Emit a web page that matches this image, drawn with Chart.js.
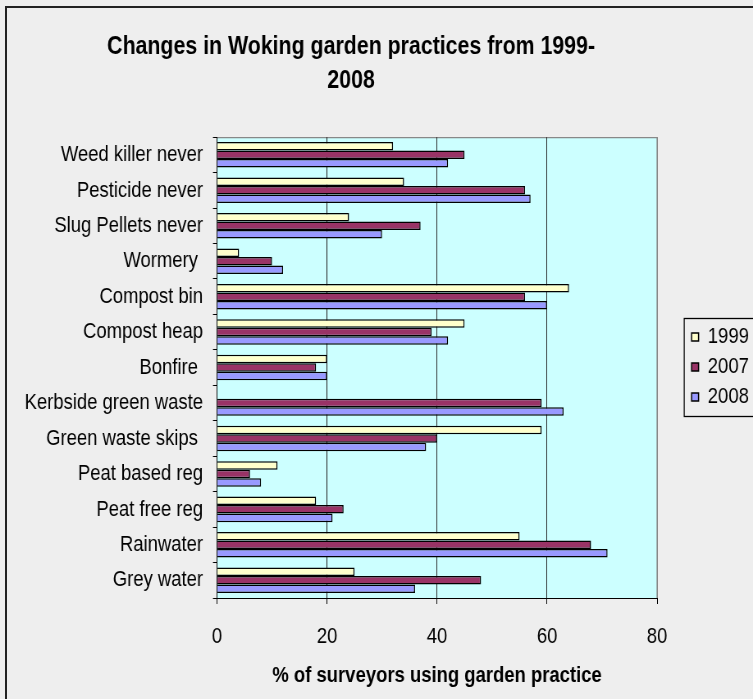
<!DOCTYPE html>
<html>
<head>
    <title>Changes in Woking garden practices</title>
    <script src="https://cdn.jsdelivr.net/npm/chart.js"></script>
    <style>
        body { margin: 0; background: #eeeeee; overflow: hidden; }
        .frame { position: absolute; left: 5px; top: 6px; width: 900px; height: 900px; border-left: 2px solid #222; border-top: 2px solid #222; }
        /* the original picture is squeezed sideways, so the canvas is too */
        #chart { position: absolute; left: 0; top: 0; transform: scaleX(0.8203); transform-origin: 0 0; }
    </style>
</head>
<body>
    <div class="frame"></div>
    <canvas id="chart" width="918" height="699"></canvas>

    <script>
        const categories = [
            'Weed killer never', 'Pesticide never', 'Slug Pellets never', 'Wormery ',
            'Compost bin', 'Compost heap', 'Bonfire ', 'Kerbside green waste',
            'Green waste skips ', 'Peat based reg', 'Peat free reg', 'Rainwater', 'Grey water'
        ];
        const years = ['1999', '2007', '2008'];
        const values1999 = [32, 34, 24, 4, 64, 45, 20, 0, 59, 11, 18, 55, 25];
        const values2007 = [45, 56, 37, 10, 56, 39, 18, 59, 40, 6, 23, 68, 48];
        const values2008 = [42, 57, 30, 12, 60, 42, 20, 63, 38, 8, 21, 71, 36];
        const xTicks = [0, 20, 40, 60, 80];

        const colors = ['#FFFFCC', '#993366', '#9999FF'];
        const FONT = "'Liberation Sans', Arial, sans-serif";

        // cyan plot area with a grey edge on top and right
        const plotBackground = {
            id: 'plotBackground',
            beforeDraw(chart) {
                const { ctx, chartArea: a } = chart;
                ctx.save();
                ctx.fillStyle = '#CCFFFF';
                ctx.fillRect(a.left, a.top, a.right - a.left, a.bottom - a.top);
                ctx.strokeStyle = '#888';
                ctx.lineWidth = 1.2;
                ctx.beginPath();
                ctx.moveTo(a.left, a.top + 0.5);
                ctx.lineTo(a.right, a.top + 0.5);
                ctx.lineTo(a.right, a.bottom);
                ctx.stroke();
                ctx.restore();
            }
        };

        // legend a little off the plot, with a frame round it
        const legendBox = {
            id: 'legendBox',
            beforeLayout(chart) {
                const lg = chart.legend;
                if (lg && !lg._fixed) {
                    const fit = lg.fit.bind(lg);
                    lg.fit = function () { fit(); this.width = 55; };
                    lg._fixed = true;
                }
            },
            afterLayout(chart) {
                const lg = chart.legend;
                lg.left += 34.6;
                lg.right = 940;
                lg.width = lg.right - lg.left;
                lg.top += 17.5;
                lg.bottom += 17.5;
            },
            afterDraw(chart) {
                const { ctx, legend: lg } = chart;
                ctx.save();
                ctx.strokeStyle = '#000';
                ctx.lineWidth = 1.3;
                ctx.strokeRect(lg.left - 1.5, 318.5, 200, 98);
                ctx.restore();
            }
        };

        const datasets = [values1999, values2007, values2008].map((vals, i) => ({
            label: years[i],
            data: vals,
            backgroundColor: colors[i],
            borderColor: '#000',
            borderWidth: 1.5,
            categoryPercentage: 0.72,
            barPercentage: 1.0
        }));

        new Chart(document.getElementById('chart'), {
            type: 'bar',
            data: { labels: categories, datasets: datasets },
            options: {
                indexAxis: 'y',
                responsive: false,
                animation: false,
                layout: { padding: { left: 0, right: 62, top: 0, bottom: 0 } },
                plugins: {
                    title: {
                        display: true,
                        text: ['Changes in Woking garden practices from 1999-', '2008'],
                        color: '#000',
                        font: { family: FONT, size: 26, weight: 'bold', lineHeight: 1.31 },
                        padding: { top: 30, bottom: 39 }
                    },
                    legend: {
                        position: 'right',
                        labels: {
                            color: '#000',
                            font: { family: FONT, size: 22.5 },
                            boxWidth: 8.5,
                            boxHeight: 8,
                            padding: 7.5
                        }
                    },
                    tooltip: { enabled: false }
                },
                scales: {
                    x: {
                        min: xTicks[0],
                        max: xTicks[xTicks.length - 1],
                        afterBuildTicks(scale) { scale.ticks = xTicks.map(v => ({ value: v })); },
                        ticks: { color: '#000', font: { family: FONT, size: 22.5 }, padding: 19 },
                        grid: {
                            color: ctx => (ctx.tick && ctx.tick.value === 80) ? '#888' : '#222',
                            tickColor: '#000',
                            tickLength: 6
                        },
                        border: { color: '#000', width: 1 },
                        title: {
                            display: true,
                            text: '% of surveyors using garden practice',
                            color: '#000',
                            font: { family: FONT, size: 22.5, weight: 'bold' },
                            padding: { top: 0, bottom: 10 }
                        },
                        afterFit(scale) { scale.height = 101; }
                    },
                    y: {
                        ticks: { color: '#000', font: { family: FONT, size: 22.5 }, padding: 12 },
                        grid: { drawOnChartArea: false, tickColor: '#000', tickLength: 5 },
                        border: { color: '#000', width: 1 },
                        afterFit(scale) { scale.width = 264.6; }
                    }
                }
            },
            plugins: [plotBackground, legendBox]
        });
    </script>
</body>
</html>
